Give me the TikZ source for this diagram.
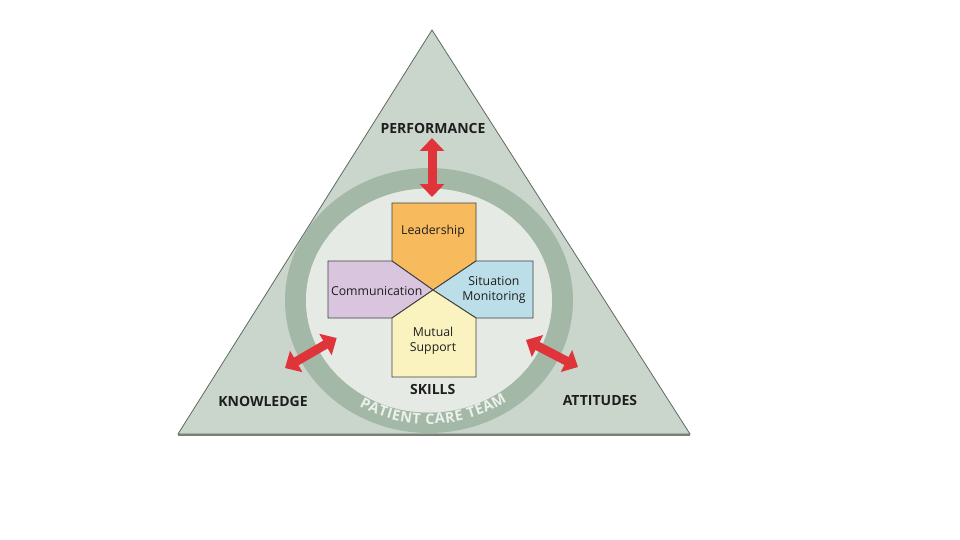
\documentclass[tikz,border=0pt]{standalone}
\usepackage{fontspec}
\setmainfont{Open Sans}
\usetikzlibrary{arrows.meta,decorations.text}
\definecolor{tri}{RGB}{202,214,204}
\definecolor{ringc}{RGB}{164,184,167}
\definecolor{innerc}{RGB}{229,234,229}
\definecolor{edgec}{RGB}{95,105,97}
\definecolor{arrowred}{RGB}{223,52,58}
\definecolor{leadc}{RGB}{247,187,94}
\definecolor{commc}{RGB}{217,197,222}
\definecolor{situc}{RGB}{188,222,232}
\definecolor{mutuc}{RGB}{250,243,192}
\definecolor{ink}{RGB}{30,30,30}
\definecolor{ringtext}{RGB}{236,241,236}
\newcommand{\lsp}{\kern0.6pt}
\begin{document}
\begin{tikzpicture}[x=1pt,y=1pt,
  biglabel/.style={font=\fontsize{14}{14}\selectfont\bfseries, text=ink, inner sep=0pt},
  boxlabel/.style={font=\fontsize{12.3}{15}\selectfont, text=ink, align=center, inner sep=0pt},
  petal/.style={draw=ink!85, line width=0.9pt, line join=miter},
  dblarrow/.style={arrowred, line width=9pt, {Triangle[length=13pt,width=24pt]}-{Triangle[length=13pt,width=24pt]}}]
\useasboundingbox (0,0) rectangle (960,-540);
\fill[white] (0,0) rectangle (960,-540);

% triangle
\filldraw[fill=tri, draw=edgec, line width=0.8pt] (432,-30) -- (690,-434) -- (178,-434) -- cycle;
\draw[edgec!85, line width=2.5pt] (178,-435) -- (690,-435);

% ring and inner field
\coordinate (rc) at (429,-300.5);
\fill[ringc, even odd rule] (rc) ellipse [x radius=144, y radius=132.5]
                           (rc) ellipse [x radius=123, y radius=112];
\fill[innerc] (rc) ellipse [x radius=123, y radius=112];

% curved text
\path[decorate,
      decoration={text along path, text align=center, text color=ringtext,
      text={|\fontsize{14.5}{14.5}\selectfont\bfseries|P{\lsp}A{\lsp}T{\lsp}I{\lsp}E{\lsp}N{\lsp}T{\lsp} {\lsp}C{\lsp}A{\lsp}R{\lsp}E{\lsp} {\lsp}T{\lsp}E{\lsp}A{\lsp}M}}]
  (rc) ++(230:135 and 123.5) arc[start angle=230, end angle=314, x radius=135, y radius=123.5];

% cross
\coordinate (cc) at (433,-290);
\filldraw[petal, fill=leadc] (392,-203) -- (476,-203) -- (476,-261) -- (cc) -- (392,-261) -- cycle;
\filldraw[petal, fill=commc] (328,-261) -- (392,-261) -- (cc) -- (392,-318) -- (328,-318) -- cycle;
\filldraw[petal, fill=situc] (476,-261) -- (533,-261) -- (533,-318) -- (476,-318) -- (cc) -- cycle;
\filldraw[petal, fill=mutuc] (392,-318) -- (cc) -- (476,-318) -- (476,-377) -- (392,-377) -- cycle;

\node[boxlabel] (lead) at (433,-231) {Leadership};
\node[boxlabel] (comm) at (376.7,-291.5) {Communication};
\node[boxlabel] (situ) at (494,-289.5) {Situation\\Monitoring};
\node[boxlabel] (mutu) at (433,-341) {Mutual\\Support};

% outer labels
\node[biglabel] (perf) at (433,-128.3) {PERFORMANCE};
\node[biglabel] (skills) at (432.7,-389) {SKILLS};
\node[biglabel] (know) at (263,-401) {KNOWLEDGE};
\node[biglabel] (att) at (600,-400) {ATTITUDES};

% arrows
\coordinate (ta) at (432,-138);
\coordinate (tb) at (432,-197);
\coordinate (la) at (336.7,-338);
\coordinate (lb) at (285,-368);
\coordinate (ra) at (526,-340);
\coordinate (rb) at (578,-367);
\draw[dblarrow] (ta) -- (tb);
\draw[dblarrow] (la) -- (lb);
\draw[dblarrow] (ra) -- (rb);
\end{tikzpicture}
\end{document}
